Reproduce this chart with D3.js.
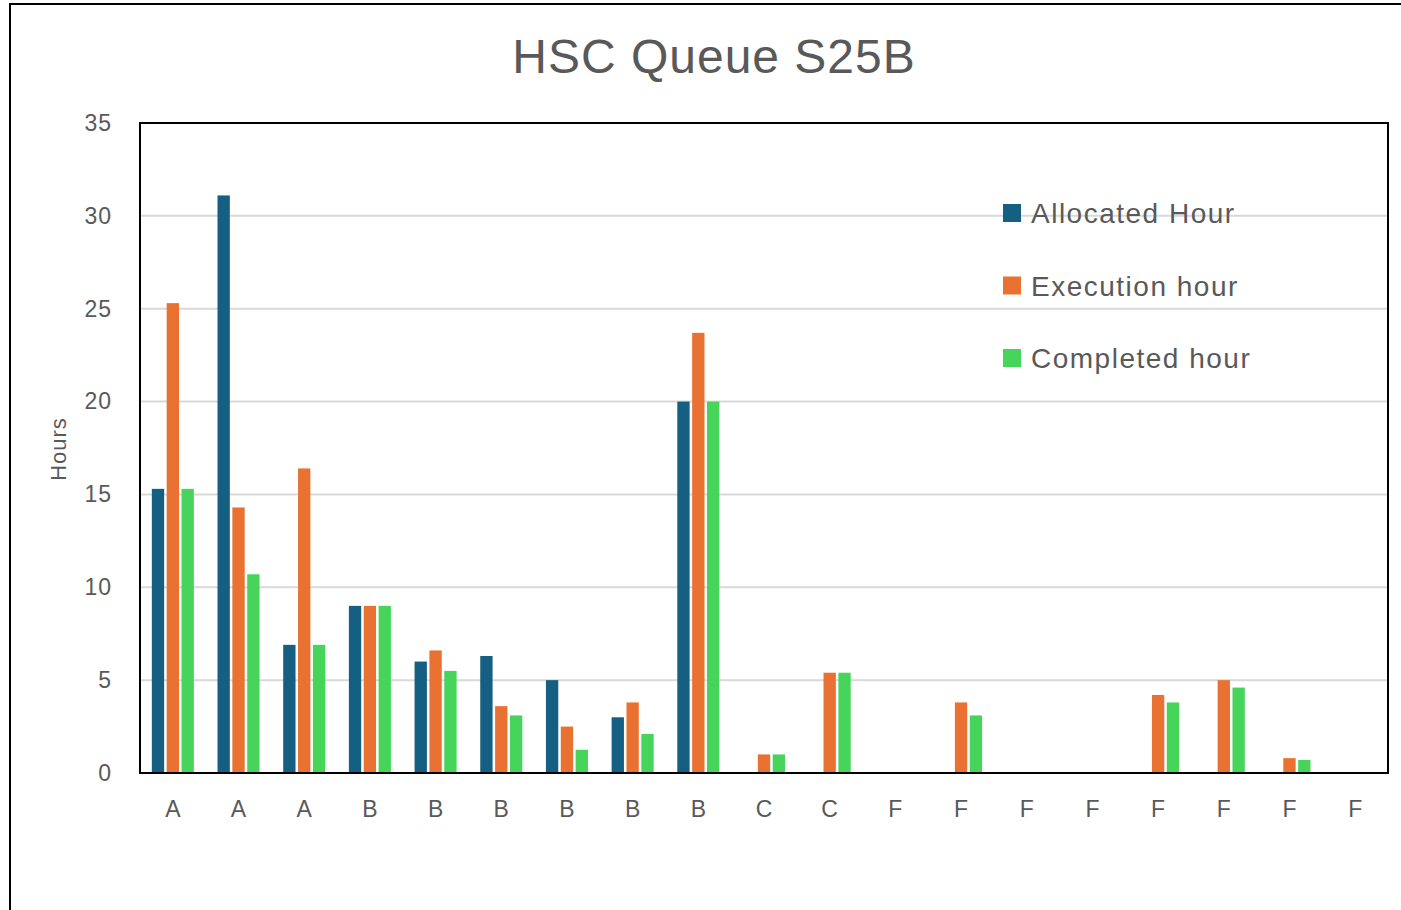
<!DOCTYPE html>
<html>
<head>
<meta charset="utf-8">
<script src="https://cdn.jsdelivr.net/npm/d3@7"></script>
<style>
  body { margin: 0; background: #fff; }
  text { font-family: "Liberation Sans", Arial, sans-serif; fill: #595959; }
</style>
</head>
<body>
<div id="chart"></div>
<script>
// Chart data
const categories = ["A", "A", "A", "B", "B", "B", "B", "B", "B", "C", "C", "F", "F", "F", "F", "F", "F", "F", "F"];
const allocated = [15.3, 31.1, 6.9, 9, 6, 6.3, 5, 3, 20, 0, 0, 0, 0, 0, 0, 0, 0, 0, 0];
const execution = [25.3, 14.3, 16.4, 9, 6.6, 3.6, 2.5, 3.8, 23.7, 1, 5.4, 0, 3.8, 0, 0, 4.2, 5, 0.8, 0];
const completed = [15.3, 10.7, 6.9, 9, 5.5, 3.1, 1.25, 2.1, 20, 1, 5.4, 0, 3.1, 0, 0, 3.8, 4.6, 0.7, 0];
const seriesNames = ["Allocated Hour", "Execution hour", "Completed hour"];
const seriesColors = ["#156082", "#e97132", "#47d45a"];
const yTicks = [0, 5, 10, 15, 20, 25, 30, 35];

const seriesValues = [allocated, execution, completed];

// Dimensions
const W = 1401, H = 910;
const margin = { top: 123, right: 13, bottom: 137, left: 140 };
const width = W - margin.left - margin.right;
const height = H - margin.top - margin.bottom;

const svg = d3.select("#chart")
  .append("svg")
    .attr("width", W)
    .attr("height", H);

// Outer chart frame (extends past the window edge)
svg.append("rect")
  .attr("x", 10).attr("y", 4)
  .attr("width", W + 20).attr("height", H + 20)
  .attr("fill", "none")
  .attr("stroke", "#000")
  .attr("stroke-width", 2);

const g = svg.append("g")
  .attr("transform", `translate(${margin.left},${margin.top})`);

// Scales
const x = d3.scaleBand()
  .domain(d3.range(categories.length))
  .range([0, width]);

const inner = d3.scaleBand()
  .domain(d3.range(seriesNames.length))
  .range([x.bandwidth() * 0.18, x.bandwidth() * 0.82])
  .paddingInner(0.17);

const y = d3.scaleLinear().domain([0, 35]).range([height, 0]);

// Gridlines
g.append("g")
  .selectAll("line")
  .data(yTicks.filter(d => d > 0 && d < 35))
  .enter().append("line")
    .attr("x1", 0).attr("x2", width)
    .attr("y1", d => y(d)).attr("y2", d => y(d))
    .attr("stroke", "#d9d9d9")
    .attr("stroke-width", 2);

// Bars
const groups = g.append("g")
  .selectAll("g")
  .data(categories.map((c, i) => i))
  .enter().append("g")
    .attr("transform", i => `translate(${x(i)},0)`);

groups.selectAll("rect")
  .data(i => seriesValues.map((vals, s) => ({ s, v: vals[i] })))
  .enter().append("rect")
    .attr("x", d => inner(d.s))
    .attr("y", d => y(d.v))
    .attr("width", inner.bandwidth())
    .attr("height", d => height - y(d.v))
    .attr("fill", d => seriesColors[d.s]);

// Plot frame
g.append("rect")
  .attr("x", 0).attr("y", 0)
  .attr("width", width).attr("height", height)
  .attr("fill", "none")
  .attr("stroke", "#000")
  .attr("stroke-width", 2);

// Y axis labels
const yAxis = g.append("g")
  .call(d3.axisLeft(y).tickValues(yTicks).tickSize(0).tickPadding(28));
yAxis.select(".domain").remove();
yAxis.selectAll("text")
  .style("font-size", "23px")
  .style("letter-spacing", "1px")
  .style("font-family", "Liberation Sans, Arial, sans-serif")
  .attr("fill", "#595959");

// X axis labels
const xAxis = g.append("g")
  .attr("transform", `translate(0,${height})`)
  .call(d3.axisBottom(x).tickFormat(i => categories[i]).tickSize(0).tickPadding(28));
xAxis.select(".domain").remove();
xAxis.selectAll("text")
  .style("font-size", "23px")
  .style("font-family", "Liberation Sans, Arial, sans-serif")
  .attr("fill", "#595959");

// Y axis title
svg.append("text")
  .attr("transform", "translate(66,449) rotate(-90)")
  .attr("text-anchor", "middle")
  .style("font-size", "22px")
  .style("letter-spacing", "1px")
  .text("Hours");

// Chart title
svg.append("text")
  .attr("x", 714)
  .attr("y", 73)
  .attr("text-anchor", "middle")
  .style("font-size", "48px")
  .style("letter-spacing", "1px")
  .text("HSC Queue S25B");

// Legend
const legend = g.append("g")
  .attr("transform", `translate(${1003 - margin.left},${213 - margin.top})`);

const legendItems = legend.selectAll("g")
  .data(seriesNames)
  .enter().append("g")
    .attr("transform", (d, i) => `translate(0,${i * 72.5})`);

legendItems.append("rect")
  .attr("x", 0).attr("y", -9)
  .attr("width", 18).attr("height", 18)
  .attr("fill", (d, i) => seriesColors[i]);

legendItems.append("text")
  .attr("x", 28)
  .attr("y", 10)
  .style("font-size", "28px")
  .style("letter-spacing", "1.5px")
  .text(d => d);
</script>
</body>
</html>
